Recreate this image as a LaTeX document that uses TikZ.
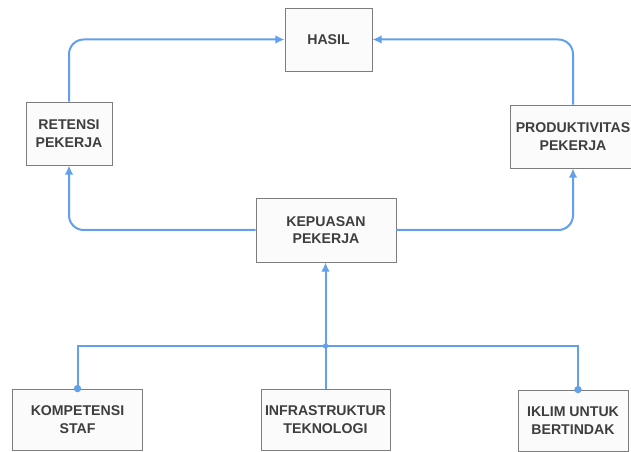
\documentclass[tikz,border=0pt]{standalone}
\usepackage{fontspec}
\setmainfont{Liberation Sans}
\usetikzlibrary{arrows.meta}
\definecolor{linkblue}{RGB}{98,160,236}
\definecolor{boxline}{RGB}{125,125,125}
\definecolor{boxfill}{RGB}{251,251,251}
\definecolor{labeltext}{RGB}{62,62,62}
\tikzset{
  box/.style={draw=boxline, line width=0.6pt, fill=boxfill, rectangle,
    align=center, text=labeltext,
    font=\fontsize{10.6pt}{13.2pt}\selectfont\bfseries, inner sep=0pt},
  link/.style={draw=linkblue, line width=1.5pt},
  arrowlink/.style={link, -{Latex[length=7pt,width=6.5pt]}},
  dotmark/.style={fill=linkblue, draw=none, circle, inner sep=0pt, minimum size=5.5pt},
  smalldot/.style={fill=linkblue, draw=none, circle, inner sep=0pt, minimum size=4pt}
}
\begin{document}
\begin{tikzpicture}[x=0.75pt, y=-0.75pt]
  \useasboundingbox (0,0) rectangle (631,452);
  \fill[white] (0,0) rectangle (631,452);

  % boxes
  \node[box, minimum width=65.25pt, minimum height=47.25pt] (hasil) at (328.5,39.5) {HASIL};
  \node[box, minimum width=64.5pt, minimum height=47.25pt] (ret) at (69,133.5) {RETENSI\\PEKERJA};
  \node[box, minimum width=94.5pt, minimum height=47.25pt] (prod) at (573,136.5) {PRODUKTIVITAS\\PEKERJA};
  \node[box, minimum width=105pt, minimum height=48pt] (kep) at (326,230) {KEPUASAN\\PEKERJA};
  \node[box, minimum width=97.5pt, minimum height=45.75pt] (komp) at (77.5,419.5) {KOMPETENSI\\STAF};
  \node[box, minimum width=96.75pt, minimum height=45.75pt] (infra) at (325.5,419.5) {INFRASTRUKTUR\\TEKNOLOGI};
  \node[box, minimum width=82.5pt, minimum height=45.75pt] (ikl) at (573,420.5) {IKLIM UNTUK\\BERTINDAK};

  % connector points
  \coordinate (j) at (325.5,346);
  \coordinate (iklin) at ([xshift=3.75pt]ikl.north);

  % upper loop
  \draw[arrowlink, rounded corners=11pt] (ret.north) |- (hasil.west);
  \draw[arrowlink, rounded corners=11pt] (prod.north) |- (hasil.east);
  \draw[arrowlink, rounded corners=11pt] (kep.west) -| (ret.south);
  \draw[arrowlink, rounded corners=11pt] (kep.east) -| (prod.south);

  % lower tree
  \draw[arrowlink] (j) -- (j |- kep.south);
  \draw[link] (infra.north) -- (j);
  \draw[link] (j) -| (komp.north);
  \draw[link] (j) -| (iklin);
  \node[smalldot] (jd) at (j) {};
  \node[dotmark] (kd) at (komp.north) {};
  \node[dotmark] (id) at (iklin) {};
\end{tikzpicture}
\end{document}
